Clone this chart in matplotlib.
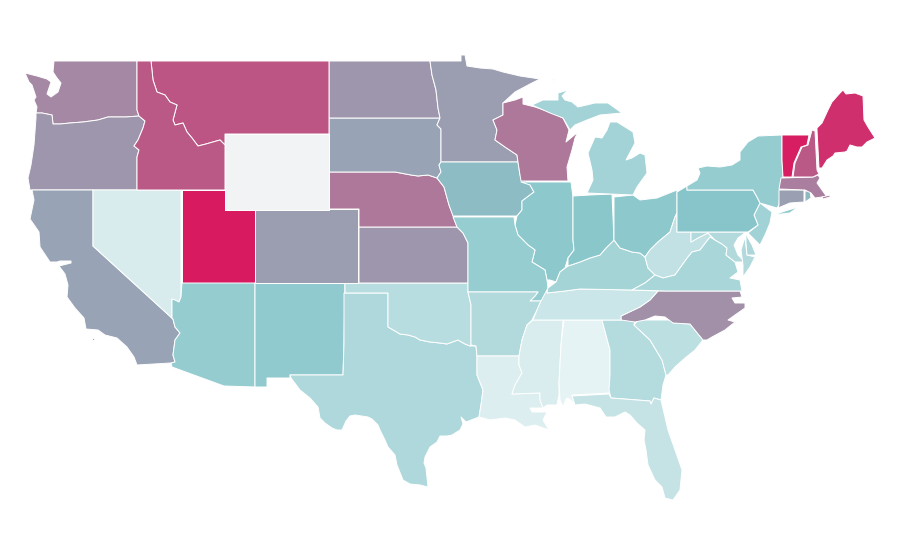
import numpy as np
import matplotlib
matplotlib.use("Agg")
import matplotlib.pyplot as plt
from matplotlib.collections import PolyCollection
from matplotlib.colors import LinearSegmentedColormap, Normalize

# state values, 0-100 index (Wyoming has no data)
states = ["WA", "OR", "CA", "NV", "UT", "AZ", "NM", "TX", "OK", "KS", "CO", "NE", "SD", "ND", "MT", "ID",
          "MN", "IA", "WI", "IL", "MO", "AR", "LA", "MS", "AL", "GA", "FL", "SC", "NC", "TN", "KY", "IN",
          "OH", "WV", "VA", "MD", "DE", "NJ", "PA", "NY", "CT", "RI", "MA", "NH", "VT", "ME", "MI", "WY"]
values = [68, 64, 60, 12, 100, 44, 46, 32, 27, 64, 62, 73, 60, 64, 83, 82,
          62, 53, 73, 48, 43, 30, 10, 11, 5, 29, 21, 25, 66, 18, 36, 49,
          48, 23, 34, 30, 33, 38, 50, 44, 61, 54, 71, 82, 99, 94, 37, np.nan]

shapes = {
    "WA": [[(25, 73), (37, 76), (47, 79), (51, 82), (49, 88), (47, 94), (51, 97), (58, 92), (61, 83), (57, 78),
            (53, 72), (54, 61), (137, 61), (137, 110), (139, 116), (126, 117), (108, 117), (98, 120), (83, 122),
            (70, 123), (60, 124), (53, 124), (52, 115), (42, 113), (36, 113), (37, 107), (34, 100), (36, 97), (32, 85),
            (29, 82)]],
    "OR": [[(36, 113), (42, 113), (52, 115), (53, 124), (60, 124), (70, 123), (83, 122), (98, 120), (108, 117),
            (126, 117), (139, 116), (145, 121), (143, 128), (138, 140), (134, 146), (139, 150), (137, 157),
            (137, 190), (30, 190), (28, 178), (31, 165), (34, 145), (36, 118)]],
    "CA": [[(32, 190), (93, 190), (93, 246), (173, 319), (175, 327), (180, 333), (175, 340), (173, 355), (175, 362),
            (171, 363), (137, 365), (134, 357), (127, 347), (117, 338), (105, 335), (98, 330), (86, 329), (84, 318),
            (75, 308), (67, 297), (68, 285), (65, 274), (59, 266), (71, 263), (71, 261), (60, 261), (57, 262), (50, 262),
            (40, 247), (39, 232), (30, 219), (34, 200)],
           [(92, 338), (94, 338), (94, 340), (92, 340)]],
    "NV": [[(93, 190), (181, 190), (181, 297), (179, 302), (175, 300), (172, 299), (172, 318), (173, 319), (93, 246)]],
    "UT": [[(182, 190), (225, 190), (225, 210), (255, 210), (255, 283), (182, 283)]],
    "AZ": [[(182, 283), (255, 283), (255, 387), (224, 386), (172, 367), (171, 363), (175, 362), (173, 355), (175, 340),
            (180, 333), (175, 327), (173, 319), (172, 318), (172, 299), (175, 300), (179, 302), (181, 297)]],
    "NM": [[(255, 283), (345, 283), (344, 343), (343, 375), (290, 375), (290, 378), (267, 378), (267, 387), (255, 387)]],
    "TX": [[(344, 293), (388, 293), (388, 327), (395, 331), (400, 334), (408, 335), (415, 337), (420, 340), (430, 342),
            (440, 343), (447, 344), (458, 340), (465, 344), (470, 346), (476, 346), (477, 356), (477, 375), (483, 390),
            (481, 405), (479, 417), (466, 422), (461, 417), (463, 424), (460, 430), (452, 435), (447, 436), (440, 436),
            (437, 442), (430, 447), (425, 457), (424, 463), (426, 468), (428, 487), (420, 485), (410, 484), (403, 480),
            (399, 470), (397, 465), (395, 455), (388, 447), (385, 440), (380, 430), (378, 425), (372, 419), (368, 417),
            (355, 415), (350, 416), (346, 421), (342, 430), (337, 430), (332, 428), (325, 423), (320, 418), (318, 407),
            (310, 398), (300, 390), (291, 378), (290, 375), (343, 375), (344, 343)]],
    "OK": [[(345, 283), (468, 283), (468, 292), (471, 305), (471, 345), (470, 346), (465, 344), (458, 340), (447, 344),
            (440, 343), (430, 342), (420, 340), (415, 337), (408, 335), (400, 334), (395, 331), (388, 327), (388, 293),
            (345, 293)]],
    "KS": [[(359, 227), (457, 227), (463, 233), (468, 243), (468, 283), (359, 283)]],
    "CO": [[(255, 209), (358, 209), (358, 283), (255, 283)]],
    "NE": [[(329, 172), (395, 172), (411, 175), (418, 176), (428, 175), (437, 178), (444, 187), (449, 205), (453, 215),
            (457, 227), (359, 227), (359, 209), (329, 209)]],
    "SD": [[(329, 118), (440, 118), (437, 125), (441, 129), (441, 162), (439, 165), (441, 172), (437, 178), (428, 175),
            (418, 176), (411, 175), (395, 172), (329, 172)]],
    "ND": [[(329, 61), (430, 61), (432, 75), (436, 90), (438, 108), (440, 118), (329, 118)]],
    "MT": [[(151, 61), (329, 61), (329, 134), (225, 134), (225, 145), (220, 140), (206, 144), (198, 146), (192, 138),
            (187, 132), (183, 123), (175, 125), (173, 120), (177, 105), (170, 102), (165, 95), (157, 92), (153, 80)]],
    "ID": [[(137, 61), (151, 61), (153, 80), (157, 92), (165, 95), (170, 102), (177, 105), (173, 120), (175, 125),
            (183, 123), (187, 132), (192, 138), (198, 146), (206, 144), (220, 140), (225, 145), (225, 190), (137, 190),
            (137, 157), (139, 150), (134, 146), (138, 140), (143, 128), (145, 121), (139, 116), (137, 110)]],
    "MN": [[(430, 61), (461, 61), (461, 55), (465, 55), (467, 66), (480, 68), (493, 69), (503, 72), (520, 76), (540, 79),
            (530, 84), (515, 92), (503, 103), (503, 115), (493, 120), (497, 130), (495, 140), (505, 147), (517, 155),
            (518, 162), (441, 162), (441, 129), (437, 125), (440, 118), (438, 108), (436, 90), (432, 75)]],
    "IA": [[(441, 162), (518, 162), (520, 175), (530, 185), (534, 192), (522, 201), (522, 210), (517, 216), (453, 216),
            (449, 205), (444, 187), (437, 178), (441, 172), (439, 165)]],
    "WI": [[(503, 103), (515, 100), (523, 97), (523, 104), (535, 107), (553, 113), (563, 118), (569, 130), (566, 142),
            (578, 132), (575, 138), (572, 150), (567, 167), (568, 181), (521, 181), (520, 175), (518, 162), (517, 155),
            (505, 147), (495, 140), (497, 130), (493, 120), (503, 115)]],
    "IL": [[(521, 182), (571, 182), (573, 197), (573, 240), (574, 250), (568, 258), (565, 268), (560, 272), (556, 282),
            (550, 280), (547, 280), (545, 270), (532, 262), (535, 250), (528, 245), (518, 235), (515, 225), (517, 216),
            (522, 210), (522, 201), (534, 192), (530, 185)]],
    "MO": [[(453, 217), (514, 217), (515, 225), (518, 235), (528, 245), (535, 250), (532, 262), (545, 270), (547, 280),
            (548, 288), (543, 301), (530, 301), (535, 296), (538, 292), (468, 292), (468, 243), (463, 233), (457, 227)]],
    "AR": [[(468, 292), (538, 292), (535, 296), (530, 301), (541, 301), (537, 310), (532, 320), (527, 325), (522, 340),
            (519, 356), (477, 356), (476, 346), (471, 345), (471, 305)]],
    "LA": [[(477, 356), (519, 356), (519, 365), (522, 373), (515, 385), (512, 394), (540, 393), (540, 400), (543, 408),
            (530, 408), (532, 412), (537, 412), (547, 412), (543, 420), (549, 430), (535, 425), (525, 427), (515, 420),
            (505, 418), (490, 420), (479, 417), (481, 405), (483, 390), (477, 375)]],
    "MS": [[(533, 320), (563, 320), (561, 345), (559, 383), (559, 395), (557, 405), (547, 405), (543, 408), (540, 400),
            (540, 393), (512, 394), (515, 385), (522, 373), (519, 365), (519, 356), (522, 340), (527, 325)]],
    "AL": [[(564, 320), (602, 320), (610, 350), (610, 375), (610, 393), (572, 395), (574, 403), (568, 398), (566, 399),
            (563, 407), (560, 400), (559, 383), (561, 345)]],
    "GA": [[(602, 320), (635, 320), (634, 325), (650, 340), (662, 360), (666, 375), (663, 385), (661, 400), (654, 398),
            (651, 404), (650, 401), (611, 398), (609, 390), (610, 375), (610, 350)]],
    "FL": [[(572, 396), (609, 394), (611, 398), (650, 401), (651, 404), (654, 398), (661, 400), (668, 430), (675, 450),
            (682, 470), (680, 490), (673, 500), (665, 498), (662, 487), (655, 480), (648, 465), (646, 450), (644, 440),
            (645, 430), (637, 423), (630, 415), (625, 412), (615, 417), (606, 417), (600, 408), (585, 404), (575, 405)]],
    "SC": [[(638, 320), (672, 320), (673, 323), (690, 324), (703, 340), (695, 350), (685, 358), (675, 367), (668, 375),
            (666, 375), (662, 360), (650, 340), (634, 325)]],
    "NC": [[(621, 320), (621, 316), (640, 307), (650, 300), (658, 291), (666, 291), (740, 291), (742, 297), (732, 298),
            (735, 303), (745, 303), (745, 308), (735, 315), (728, 320), (735, 322), (725, 330), (712, 337), (707, 340),
            (703, 340), (690, 324), (673, 323), (665, 317), (655, 316), (645, 320), (635, 322)]],
    "TN": [[(547, 293), (565, 291), (580, 289), (632, 290), (658, 291), (650, 300), (640, 307), (621, 316), (621, 320),
            (602, 320), (533, 320), (537, 310), (541, 301), (548, 288)]],
    "KY": [[(548, 288), (556, 282), (560, 272), (568, 266), (580, 262), (590, 258), (600, 255), (606, 248), (614, 240),
            (620, 248), (632, 252), (640, 253), (645, 257), (648, 268), (655, 275), (645, 283), (632, 290), (580, 289),
            (565, 291), (547, 293)]],
    "IN": [[(573, 196), (590, 195), (612, 194), (614, 240), (606, 248), (600, 255), (590, 258), (580, 262), (568, 266),
            (568, 258), (574, 250), (573, 240)]],
    "OH": [[(614, 197), (633, 195), (640, 200), (657, 198), (677, 190), (677, 213), (675, 217), (670, 232), (658, 242),
            (650, 250), (645, 257), (640, 253), (632, 252), (620, 248), (614, 240)]],
    "WV": [[(645, 257), (650, 250), (658, 242), (670, 232), (675, 217), (677, 213), (677, 232), (691, 232), (691, 242),
            (698, 238), (708, 233), (715, 240), (710, 237), (700, 250), (692, 252), (688, 257), (680, 268), (675, 275),
            (663, 278), (655, 275), (648, 268)]],
    "VA": [[(632, 290), (645, 283), (655, 275), (663, 278), (675, 275), (680, 268), (688, 257), (692, 252), (700, 250),
            (710, 237), (715, 240), (722, 244), (727, 248), (726, 255), (735, 262), (738, 272), (730, 278), (740, 280),
            (742, 291), (666, 291)]],
    "MD": [[(691, 232), (746, 232), (738, 238), (734, 245), (738, 255), (745, 262), (735, 262), (726, 255), (727, 248),
            (722, 244), (715, 240), (708, 233), (698, 238), (691, 242)],
           [(745, 237), (747, 255), (755, 257), (750, 267), (743, 277), (743, 265), (741, 250)]],
    "DE": [[(746, 232), (748, 238), (752, 245), (756, 255), (747, 255), (746, 243)]],
    "NJ": [[(760, 203), (772, 212), (770, 223), (765, 235), (760, 245), (752, 237), (748, 233), (758, 225), (754, 215),
            (758, 207)]],
    "PA": [[(677, 192), (687, 186), (687, 190), (753, 190), (757, 197), (760, 203), (754, 215), (758, 225), (748, 232),
            (677, 232)]],
    "NY": [[(687, 186), (697, 180), (700, 173), (698, 168), (707, 166), (720, 167), (732, 165), (740, 160), (740, 152),
            (748, 142), (758, 136), (782, 135), (782, 160), (783, 177), (780, 190), (779, 205), (777, 208), (760, 203),
            (757, 197), (753, 190), (687, 190)],
           [(773, 215), (785, 211), (798, 207), (790, 213)]],
    "CT": [[(779, 190), (804, 190), (804, 202), (790, 203), (778, 208), (779, 205)]],
    "RI": [[(805, 191), (810, 191), (811, 198), (805, 202)]],
    "MA": [[(781, 178), (813, 177), (818, 175), (820, 178), (817, 183), (822, 190), (827, 197), (822, 197), (815, 198),
            (811, 193), (805, 190), (779, 189)],
           [(822, 197), (830, 195), (830, 197), (823, 199)]],
    "NH": [[(812, 130), (815, 131), (817, 170), (819, 174), (813, 177), (793, 177), (795, 163), (802, 147), (808, 145)]],
    "VT": [[(782, 135), (809, 135), (807, 145), (801, 147), (794, 163), (792, 177), (783, 177), (782, 160)]],
    "ME": [[(817, 128), (822, 123), (828, 110), (832, 102), (840, 93), (843, 90), (846, 94), (855, 93), (863, 96),
            (864, 120), (868, 127), (875, 138), (867, 142), (862, 147), (857, 147), (850, 145), (847, 151), (845, 152),
            (835, 153), (833, 156), (827, 160), (822, 168), (819, 168), (817, 130)]],
    "MI": [[(587, 193), (633, 195), (637, 187), (647, 173), (645, 155), (640, 153), (632, 158), (626, 160), (635, 143),
            (633, 132), (617, 122), (610, 122), (607, 130), (602, 138), (595, 137), (588, 153), (592, 170), (593, 180)],
           [(532, 105), (543, 100), (558, 100), (558, 93), (568, 90), (562, 96), (565, 100), (572, 102), (578, 107),
            (595, 103), (608, 103), (615, 108), (622, 113), (600, 115), (587, 120), (575, 125), (570, 130), (563, 118),
            (550, 113)],
           [(550, 81), (555, 78), (554, 80)]],
    "WY": [[(225, 134), (329, 134), (329, 210), (225, 210)]],
}

cmap = LinearSegmentedColormap.from_list("heat", ["#f0f8f9", "#88c6ca", "#d81b60"])
cmap.set_bad("#f2f3f5")

polys = []
poly_values = []
for name, val in zip(states, values):
    for part in shapes[name]:
        polys.append(part)
        poly_values.append(val)

fig = plt.figure(figsize=(9, 5.6), dpi=100)
ax = fig.add_axes([0, 0, 1, 1])

coll = PolyCollection(polys, array=np.array(poly_values, dtype=float), cmap=cmap, norm=Normalize(0, 100),
                      edgecolors="white", linewidths=0.7)
ax.add_collection(coll)

ax.set_xlim(0, 900)
ax.set_ylim(560, 0)
ax.axis("off")

fig.savefig("out.png", dpi=100)
